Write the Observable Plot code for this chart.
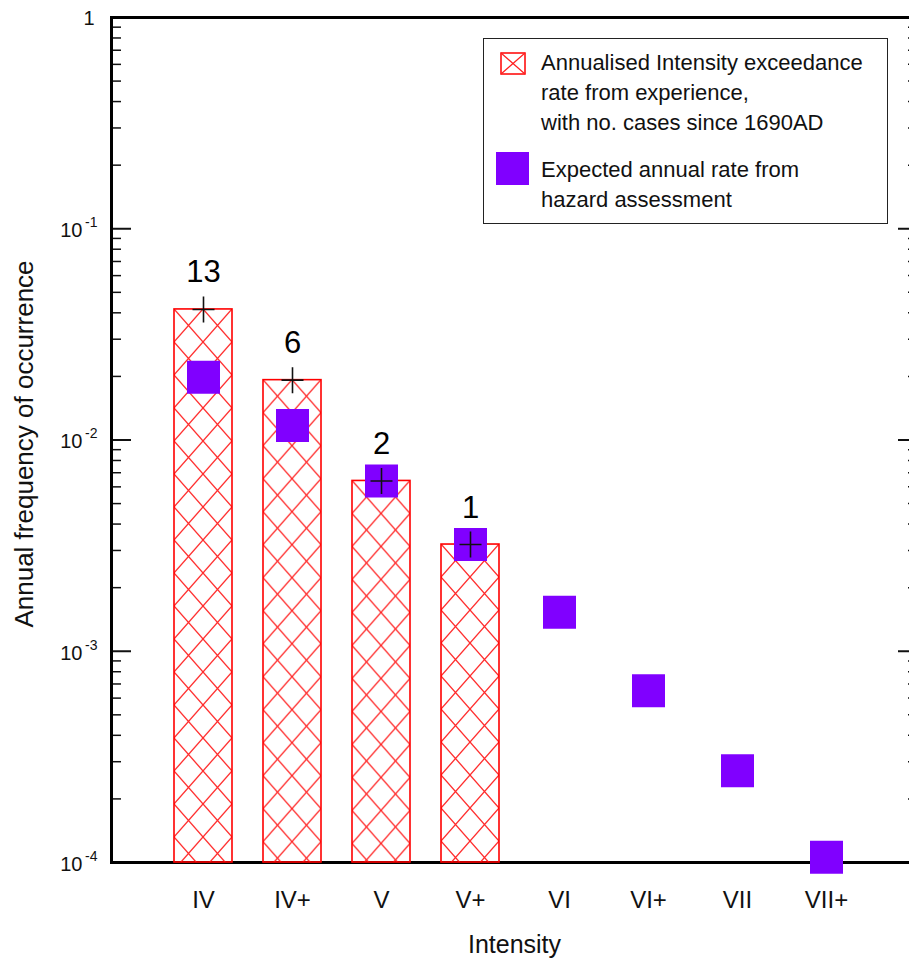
<!DOCTYPE html>
<html>
<head>
<meta charset="utf-8">
<script src="https://cdn.jsdelivr.net/npm/d3@7"></script>
<script src="https://cdn.jsdelivr.net/npm/@observablehq/plot@0.6"></script>
<style>
  body { margin: 0; background: #fff; font-family: "Liberation Sans", Arial, sans-serif; }
  #wrap { position: relative; width: 909px; height: 964px; overflow: hidden; background: #fff; }
  #chart svg { max-width: none !important; }
  #legend { position: absolute; left: 483px; top: 38px; width: 405px; height: 186px; box-sizing: border-box;
            border: 1.5px solid #222; background: #fff; color: #111; font-size: 22px; line-height: 30px; }
  #legend .txt { position: absolute; left: 57px; white-space: nowrap; }
  #legend .sw { position: absolute; }
</style>
</head>
<body>
<div id="wrap">
  <div id="chart"></div>
  <div id="legend">
    <svg class="sw" style="left:16px;top:13px" width="26" height="23">
      <rect x="1" y="1" width="24" height="21" fill="none" stroke="#ff0000" stroke-width="1.5"></rect>
      <path d="M1,1L25,22M25,1L1,22" stroke="#ff2020" stroke-width="1.2" fill="none"></path>
    </svg>
    <div class="txt" id="leg1" style="top:9px"></div>
    <div class="sw" style="left:12px;top:113px;width:33px;height:33px;background:#8000ff"></div>
    <div class="txt" id="leg2" style="top:116px"></div>
  </div>
</div>
<script>
// ---- data ----
const intensities = ["IV", "IV+", "V", "V+", "VI", "VI+", "VII", "VII+"];
const expectedAnnualRate = [0.0198, 0.0117, 0.0064, 0.0032, 0.00153, 0.00065, 0.000272, 0.000106];
const observedIntensities = ["IV", "IV+", "V", "V+"];
const observedExceedanceRate = [0.0415, 0.0192, 0.0064, 0.0032];
const casesSince1690 = [13, 6, 2, 1];
const yDomain = [1e-4, 1];
const yMajorTicks = [1, 1e-1, 1e-2, 1e-3, 1e-4];
const yTickBase = ["1", "10", "10", "10", "10"];
const yTickExponent = ["", "-1", "-2", "-3", "-4"];
const decades = [1e-4, 1e-3, 1e-2, 1e-1];
const minorMultipliers = [2, 3, 4, 5, 6, 7, 8, 9];
const legendLines1 = ["Annualised Intensity exceedance", "rate from experience,", "with no. cases since 1690AD"];
const legendLines2 = ["Expected annual rate from", "hazard assessment"];
const xTitle = "Intensity";
const yTitle = "Annual frequency of occurrence";

// ---- tables ----
const expected = intensities.map((k, i) => ({k, v: expectedAnnualRate[i]}));
const observed = observedIntensities.map((k, i) => ({k, v: observedExceedanceRate[i], n: casesSince1690[i]}));
const yMinorTicks = decades.flatMap(d => minorMultipliers.map(m => d * m));
const yTicks = yMajorTicks.map((v, i) => ({v, base: yTickBase[i], exp: yTickExponent[i]}));

const squareSym = { draw(ctx) { ctx.rect(-16.5, -16.5, 33, 33); } };
const crossSym = { draw(ctx) { ctx.moveTo(-11, 0); ctx.lineTo(11, 0); ctx.moveTo(0, -13); ctx.lineTo(0, 13); } };

const chart = Plot.plot({
  width: 925,
  height: 964,
  marginLeft: 111,
  marginRight: 8,
  marginTop: 17,
  marginBottom: 102,
  style: { fontFamily: "Liberation Sans, Arial, sans-serif", color: "#111", background: "#fff", maxWidth: "none" },
  x: { type: "band", domain: intensities, paddingInner: 0.35, paddingOuter: 0.68, axis: null },
  y: { type: "log", domain: yDomain, axis: null },
  marks: [
    // ticks, left (inward)
    Plot.axisY({ anchor: "left", ticks: yMajorTicks, tickSize: -20, tickFormat: () => "", strokeWidth: 2, label: null }),
    Plot.axisY({ anchor: "left", ticks: yMinorTicks, tickSize: -10, tickFormat: () => "", strokeWidth: 1.5, label: null }),
    // ticks, right (inward)
    Plot.axisY({ anchor: "right", ticks: yMajorTicks, tickSize: -20, tickFormat: () => "", strokeWidth: 2, label: null }),
    Plot.axisY({ anchor: "right", ticks: yMinorTicks, tickSize: -10, tickFormat: () => "", strokeWidth: 1.5, label: null }),
    // y tick labels
    Plot.text(yTicks, { filter: d => d.exp === "", y: "v", text: "base", frameAnchor: "left", dx: -17, textAnchor: "end", lineAnchor: "middle", fontSize: 20, dy: 1 }),
    Plot.text(yTicks, { filter: d => d.exp !== "", y: "v", text: "base", frameAnchor: "left", dx: -29, textAnchor: "end", lineAnchor: "middle", fontSize: 20, dy: 2 }),
    Plot.text(yTicks, { filter: d => d.exp !== "", y: "v", text: "exp", frameAnchor: "left", dx: -14, textAnchor: "end", lineAnchor: "middle", fontSize: 14, dy: -6 }),
    // x tick labels
    Plot.axisX({ anchor: "bottom", tickSize: 0, tickPadding: 28, fontSize: 24, label: null }),
    // titles
    Plot.text([xTitle], { text: d => d, frameAnchor: "bottom", dy: 90, lineAnchor: "bottom", fontSize: 25 }),
    Plot.text([yTitle], { text: d => d, frameAnchor: "left", dx: -79, dy: 4, rotate: -90, lineAnchor: "bottom", textAnchor: "middle", fontSize: 26 }),
    Plot.frame({ stroke: "#000", strokeWidth: 3 }),
    // bars
    Plot.barY(observed, { x: "k", y1: yDomain[0], y2: "v", fill: "none", stroke: "#ff0000", strokeWidth: 1.6 }),
    // expected squares
    Plot.dot(expected, { x: "k", y: "v", symbol: squareSym, fill: "#8000ff", stroke: "none" }),
    // crosses at bar tops
    Plot.dot(observed, { x: "k", y: "v", symbol: crossSym, fill: "none", stroke: "#111", strokeWidth: 1.6 }),
    // counts
    Plot.text(observed, { x: "k", y: "v", text: "n", dy: -27, lineAnchor: "bottom", fontSize: 31, fill: "#000" })
  ]
});
chart.style.maxWidth = "none";

// hatch patterns, one per bar, anchored at each bar's top-left
const ns = "http://www.w3.org/2000/svg";
const defs = document.createElementNS(ns, "defs");
chart.insertBefore(defs, chart.firstChild);
chart.querySelectorAll('g[aria-label="bar"] rect').forEach((r, i) => {
  const x = +r.getAttribute("x"), y = +r.getAttribute("y"), w = +r.getAttribute("width");
  const tw = w / 2, th = 33;
  const p = document.createElementNS(ns, "pattern");
  p.setAttribute("id", "hatch" + i);
  p.setAttribute("patternUnits", "userSpaceOnUse");
  p.setAttribute("x", x); p.setAttribute("y", y);
  p.setAttribute("width", tw); p.setAttribute("height", th);
  const path = document.createElementNS(ns, "path");
  path.setAttribute("d", `M0,0L${tw},${th}M${tw},0L0,${th}`);
  path.setAttribute("stroke", "#ff2a2a");
  path.setAttribute("stroke-width", "1.3");
  path.setAttribute("fill", "none");
  p.appendChild(path);
  defs.appendChild(p);
  r.setAttribute("fill", `url(#hatch${i})`);
});

document.getElementById("chart").appendChild(chart);
document.getElementById("leg1").innerHTML = legendLines1.join("<br>");
document.getElementById("leg2").innerHTML = legendLines2.join("<br>");
</script>
</body>
</html>
